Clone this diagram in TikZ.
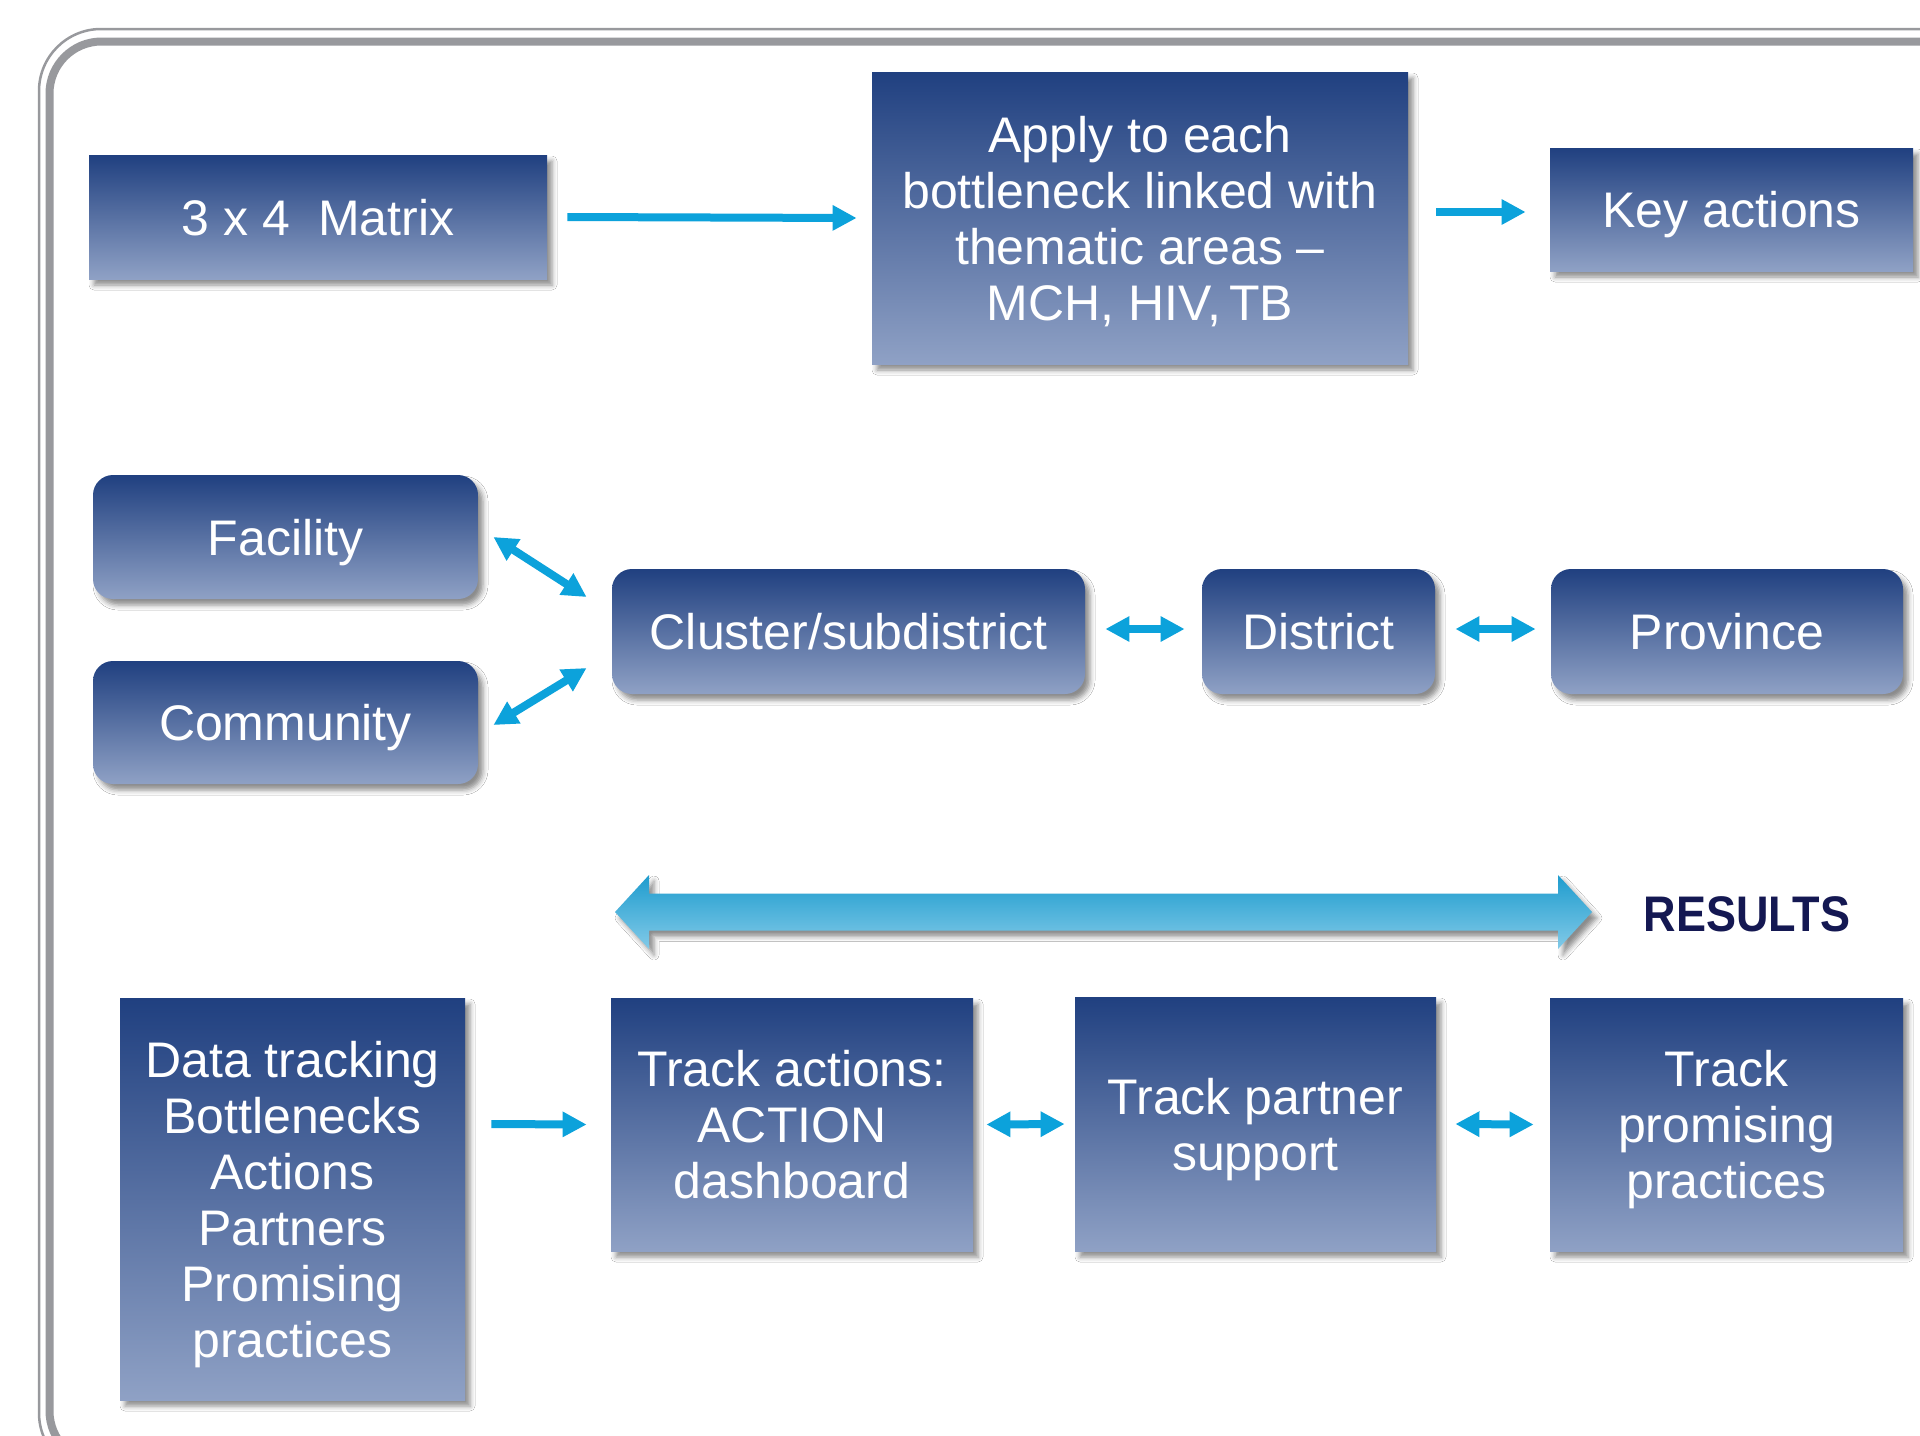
\documentclass[tikz,border=0pt]{standalone}
\usepackage{fontspec}
\setmainfont{Liberation Sans}
\usetikzlibrary{arrows.meta,shadows.blur}
\definecolor{boxtop}{RGB}{32,64,128}
\definecolor{boxbot}{RGB}{143,161,197}
\definecolor{arrowblue}{RGB}{12,162,219}
\definecolor{framegray}{RGB}{152,153,157}
\definecolor{resnavy}{RGB}{20,24,82}
\definecolor{bigtop}{RGB}{30,156,206}
\definecolor{bigbot}{RGB}{130,202,232}
\begin{document}
\begin{tikzpicture}[x=0.5pt,y=-0.5pt,
  >={Triangle[length=12pt,width=12pt]},
  box/.style={top color=boxtop, bottom color=boxbot, text=white, align=center,
    inner sep=0pt, text depth=0pt, font=\fontsize{25}{28}\selectfont,
    blur shadow={shadow xshift=2.5pt,shadow yshift=-3pt,shadow blur radius=2.5pt,shadow opacity=45}},
  rbox/.style={box, rounded corners=10pt},
  arr/.style={draw=arrowblue, line width=4pt, ->},
  darr/.style={draw=arrowblue, line width=4pt, <->}]
\useasboundingbox (0,0) rectangle (1920,1435);
\fill[white] (0,0) rectangle (1920,1435);
\begin{scope}
\clip (0,0) rectangle (1920,1435);
\draw[framegray, line width=1.25pt, rounded corners=31pt] (39,29) rectangle (2100,1475);
\draw[framegray, line width=4pt, rounded corners=26pt] (49.5,41.5) rectangle (2090,1463);
\end{scope}

\node[box, minimum width=229pt, minimum height=62pt] (mat) at (318,217) {3 x 4~~Matrix};
\node[box, minimum width=268pt, minimum height=146pt] (app) at (1140,218) {Apply to each\\bottleneck linked with\\thematic areas –\\MCH, HIV,\,TB};
\node[box, minimum width=181.5pt, minimum height=61.5pt] (key) at (1731.5,209.5) {Key actions};

\node[rbox, minimum width=192.5pt, minimum height=62pt] (fac) at (285.5,537) {Facility};
\node[rbox, minimum width=192.5pt, minimum height=61.5pt] (com) at (285.5,722.5) {Community};
\node[rbox, minimum width=236.5pt, minimum height=62.5pt] (clu) at (848.5,631.5) {Cluster/subdistrict};
\node[rbox, minimum width=116.5pt, minimum height=62.5pt] (dis) at (1318.5,631.5) {District};
\node[rbox, minimum width=176pt, minimum height=62.5pt] (pro) at (1727,631.5) {Province};

\node[box, minimum width=172.5pt, minimum height=201pt] (dat) at (292.5,1199) {Data tracking\\Bottlenecks\\Actions\\Partners\\Promising\\practices};
\node[box, minimum width=181pt, minimum height=126.5pt] (tra) at (792,1124.5) {Track actions:\\ACTION\\dashboard};
\node[box, minimum width=180.5pt, minimum height=127pt] (par) at (1255.5,1124) {Track partner\\support};
\node[box, minimum width=176.5pt, minimum height=126.5pt] (prm) at (1726.5,1124.5) {Track\\promising\\practices};

\draw[arr] ([xshift=10pt]mat.east) -- ([xshift=-7.5pt]app.west);
\draw[arr] ([xshift=14pt,yshift=3pt]app.east) -- ([xshift=-12pt,yshift=-1.25pt]key.west);
\draw[darr] ([xshift=7.5pt]fac.east) -- ([xshift=-12.5pt,yshift=17.25pt]clu.west);
\draw[darr] ([xshift=7.5pt,yshift=-1.25pt]com.east) -- ([xshift=-12.5pt,yshift=-18.25pt]clu.west);
\draw[darr] ([xshift=10pt,yshift=1.25pt]clu.east) -- ([xshift=-8.5pt,yshift=1.25pt]dis.west);
\draw[darr] ([xshift=10pt,yshift=1.25pt]dis.east) -- ([xshift=-7.5pt,yshift=1.25pt]pro.west);
\draw[arr] ([xshift=13pt,yshift=37.5pt]dat.east) -- ([xshift=-12pt]tra.west);
\draw[darr] ([xshift=6.5pt]tra.east) -- ([xshift=-5pt]par.west);
\draw[darr] ([xshift=9.5pt]par.east) -- ([xshift=-8pt]prm.west);

\shade[top color=bigtop, bottom color=bigbot,
  blur shadow={shadow xshift=2.5pt,shadow yshift=-3pt,shadow blur radius=2.5pt,shadow opacity=45}]
  (615,912) -- (649,875) -- (649,893.5) -- (1558,893.5) -- (1558,875) -- (1592,912)
  -- (1558,949) -- (1558,930.5) -- (649,930.5) -- (649,949) -- cycle;

\node[text=resnavy, font=\fontsize{25}{28}\selectfont\bfseries, inner sep=0pt] (res) at (1747,914.5) {\scalebox{0.9}[1]{RESULTS}};
\end{tikzpicture}
\end{document}
